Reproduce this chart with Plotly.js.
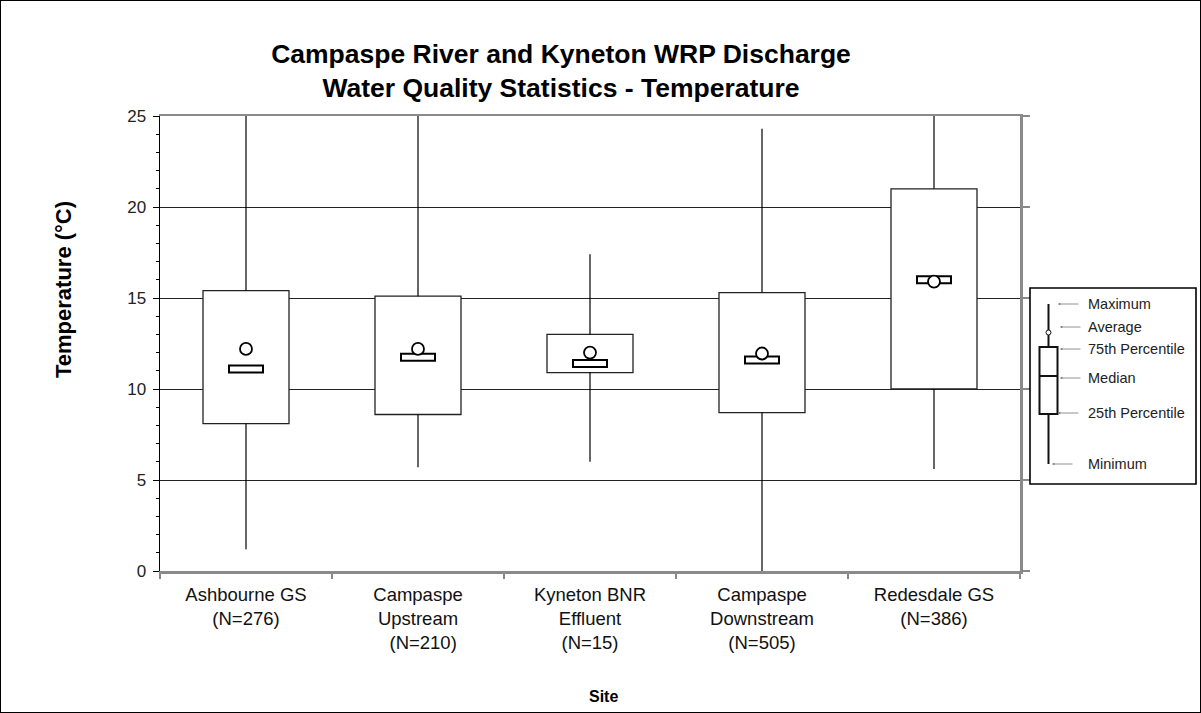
<!DOCTYPE html>
<html><head><meta charset="utf-8">
<script src="https://cdn.plot.ly/plotly-3.0.1.min.js"></script>
<style>
body{margin:0;background:#fff;}
#chart{width:1201px;height:713px;}
#frame{position:absolute;left:0;top:0;width:1199px;height:711px;border:1px solid #000;pointer-events:none;}
</style>
</head><body>
<div id="chart"></div><div id="frame"></div>
<script>
// ---- data ----
const sites = ['Ashbourne GS<br>(N=276)', 'Campaspe<br>Upstream<br>  (N=210)', 'Kyneton BNR<br>Effluent<br>(N=15)', 'Campaspe<br>Downstream<br>(N=505)', 'Redesdale GS<br>(N=386)'];
const minimum = [1.2, 5.7, 6.0, 0.0, 5.6];
const q25     = [8.1, 8.6, 10.9, 8.7, 10.0];
const median  = [11.1, 11.75, 11.4, 11.6, 16.0];
const q75     = [15.4, 15.1, 13.0, 15.3, 21.0];
const maximum = [25.0, 25.0, 17.4, 24.3, 25.0];
const average = [12.2, 12.2, 12.0, 11.95, 15.9];
const yTicks  = [0, 5, 10, 15, 20, 25];
const keyLabels = ['Maximum', 'Average', '75th Percentile', 'Median', '25th Percentile', 'Minimum'];

const FONT = 'Liberation Sans, Arial, sans-serif';

// ---- traces ----
const boxes = {
  type: 'bar', x: sites, base: q25, y: q75.map((v, i) => v - q25[i]),
  width: 0.5, marker: {color: '#fff', line: {color: '#222', width: 1.3}},
  hoverinfo: 'skip', showlegend: false
};
const wx = [], wy = [];
sites.forEach((s, i) => {
  wx.push(s, s, null, s, s, null);
  wy.push(minimum[i], q25[i], null, q75[i], maximum[i], null);
});
const whiskers = {
  type: 'scatter', mode: 'lines', x: wx, y: wy, connectgaps: false,
  line: {color: '#000', width: 1.2}, hoverinfo: 'skip', showlegend: false
};
const dummyRight = {type: 'scatter', x: [sites[0]], y: [null], yaxis: 'y2', showlegend: false, hoverinfo: 'skip'};

// ---- median bars and average circles (pixel-sized, anchored to data) ----
const shapes = [];
sites.forEach((s, i) => {
  shapes.push({type: 'rect', xref: 'x', yref: 'y', xsizemode: 'pixel', ysizemode: 'pixel',
    xanchor: s, yanchor: median[i], x0: -17, x1: 17, y0: -3.5, y1: 3.5,
    line: {color: '#000', width: 2}, fillcolor: '#fff', layer: 'above'});
});
sites.forEach((s, i) => {
  shapes.push({type: 'circle', xref: 'x', yref: 'y', xsizemode: 'pixel', ysizemode: 'pixel',
    xanchor: s, yanchor: average[i], x0: -6, x1: 6, y0: -6, y1: 6,
    line: {color: '#000', width: 1.8}, fillcolor: '#fff', layer: 'above'});
});

// ---- legend key (drawn decoration, paper coords from pixel positions) ----
const PL = 160, PR = 1020, PT = 116, PB = 571;
const px = v => (v - PL) / (PR - PL);
const py = v => (PB - v) / (PB - PT);
const pshape = (o) => Object.assign({xref: 'paper', yref: 'paper', layer: 'above'}, o);
shapes.push(pshape({type: 'rect', x0: px(1030), x1: px(1196), y0: py(288), y1: py(484), line: {color: '#000', width: 1.6}, fillcolor: '#fff'}));
shapes.push(pshape({type: 'line', x0: px(1048.5), x1: px(1048.5), y0: py(304), y1: py(464), line: {color: '#111', width: 2}}));
shapes.push(pshape({type: 'rect', x0: px(1039.5), x1: px(1057.5), y0: py(347), y1: py(414), line: {color: '#111', width: 2}, fillcolor: '#fff'}));
shapes.push(pshape({type: 'line', x0: px(1039.5), x1: px(1057.5), y0: py(376), y1: py(376), line: {color: '#111', width: 2}}));
shapes.push(pshape({type: 'circle', x0: px(1046), x1: px(1051), y0: py(330), y1: py(335), line: {color: '#111', width: 1}, fillcolor: '#fff'}));

const keyY = [304, 327, 349, 378, 413, 464];
const tipX = [1058, 1060, 1060, 1060, 1058, 1052];
const annotations = [];
keyLabels.forEach((t, i) => {
  annotations.push({xref: 'paper', yref: 'paper', x: px(tipX[i]), y: py(keyY[i]), text: '',
    showarrow: true, arrowhead: 2, arrowsize: 0.6, arrowwidth: 0.8, arrowcolor: '#777',
    ax: 22, ay: 0, axref: 'pixel', ayref: 'pixel'});
  annotations.push({xref: 'paper', yref: 'paper', x: px(1086), y: py(keyY[i]), text: t,
    xanchor: 'left', yanchor: 'middle', showarrow: false,
    font: {family: FONT, size: 14.5, color: '#222'}});
});
// axis titles placed as in the reference
annotations.push({xref: 'paper', yref: 'paper', x: px(63), y: py(290), text: 'Temperature (°C)', textangle: -90,
  xanchor: 'center', yanchor: 'middle', showarrow: false,
  font: {family: FONT, size: 22, weight: 'bold', color: '#000'}});
annotations.push({xref: 'paper', yref: 'paper', x: px(603), y: py(696), text: 'Site',
  xanchor: 'center', yanchor: 'middle', showarrow: false,
  font: {family: FONT, size: 16, weight: 'bold', color: '#000'}});

const layout = {
  width: 1201, height: 713,
  margin: {l: PL, r: 1201 - PR, t: PT, b: 713 - PB},
  paper_bgcolor: '#fff', plot_bgcolor: '#fff',
  font: {family: FONT, color: '#000'},
  title: {text: 'Campaspe River and Kyneton WRP Discharge<br>Water Quality Statistics - Temperature',
    font: {family: FONT, size: 26.5, weight: 'bold', color: '#000'},
    xref: 'container', yref: 'container', x: 561 / 1201, xanchor: 'center', y: 1 - 63 / 713, yanchor: 'middle'},
  showlegend: false,
  bargap: 0,
  xaxis: {type: 'category', range: [-0.5, 4.5], tickson: 'boundaries', ticks: 'outside', ticklen: 5,
    tickcolor: '#888', tickwidth: 1.5, showline: true, linecolor: '#8a8a8a', linewidth: 2.5, mirror: true,
    showgrid: false, zeroline: false, fixedrange: true, ticklabelstandoff: 5,
    tickfont: {family: FONT, size: 18.5, color: '#111'}},
  yaxis: {range: [0, 25], tickvals: yTicks, ticks: 'outside', ticklen: 6, tickcolor: '#000', tickwidth: 1,
    showline: true, linecolor: '#000', linewidth: 1.5, showgrid: true, gridcolor: '#222', gridwidth: 1,
    zeroline: false, fixedrange: true, ticklabelstandoff: 3,
    minor: {dtick: 1, ticks: 'outside', ticklen: 3, tickcolor: '#000', showgrid: false},
    tickfont: {family: FONT, size: 17, color: '#222'}},
  yaxis2: {overlaying: 'y', side: 'right', range: [0, 25], tickvals: yTicks, ticks: 'outside', ticklen: 7,
    tickcolor: '#888', tickwidth: 1.5, showticklabels: false, showline: true, linecolor: '#8a8a8a', linewidth: 2.5,
    showgrid: false, zeroline: false, fixedrange: true},
  shapes: shapes,
  annotations: annotations
};

Plotly.newPlot('chart', [boxes, whiskers, dummyRight], layout, {displayModeBar: false, staticPlot: true});
</script>
</body></html>
